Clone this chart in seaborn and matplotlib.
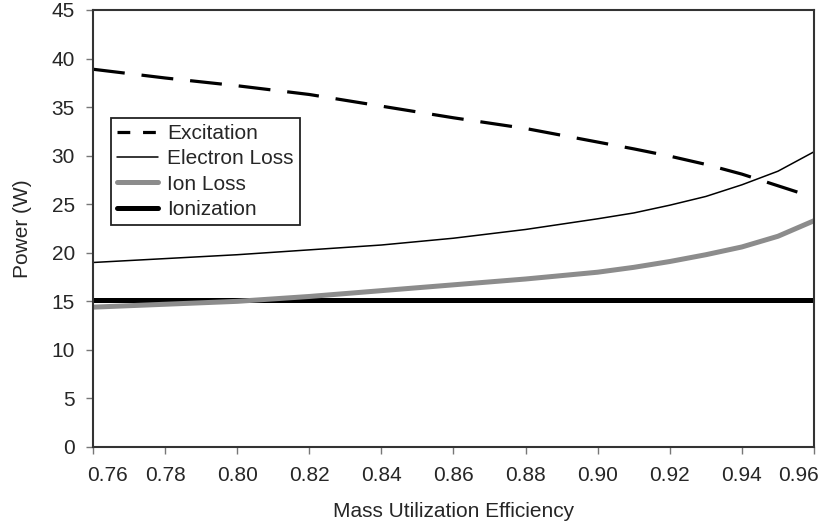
import matplotlib
matplotlib.use("Agg")
import matplotlib.pyplot as plt
from matplotlib.lines import Line2D
from matplotlib.ticker import FormatStrFormatter
import matplotlib.transforms as mtransforms
import seaborn as sns
import pandas as pd

efficiency = [0.76, 0.78, 0.80, 0.82, 0.84, 0.86, 0.88, 0.90, 0.91, 0.92, 0.93, 0.94, 0.95, 0.96]
excitation = [38.9, 38.0, 37.2, 36.3, 35.1, 33.9, 32.8, 31.4, 30.7, 29.95, 29.1, 28.1, 26.9, 25.7]
electron_loss = [19.0, 19.4, 19.8, 20.3, 20.8, 21.5, 22.4, 23.5, 24.1, 24.9, 25.8, 27.0, 28.4, 30.4]
ion_loss = [14.4, 14.7, 15.0, 15.5, 16.1, 16.7, 17.3, 18.0, 18.5, 19.1, 19.8, 20.6, 21.7, 23.3]
ionization = [15.1] * 14
series_names = ["Excitation", "Electron Loss", "Ion Loss", "Ionization"]
x_ticks = [0.76, 0.78, 0.80, 0.82, 0.84, 0.86, 0.88, 0.90, 0.92, 0.94, 0.96]
y_ticks = [0, 5, 10, 15, 20, 25, 30, 35, 40, 45]

sns.set_style("white")
plt.rcParams["font.family"] = ["Liberation Sans", "DejaVu Sans"]

FS = 15

fig = plt.figure(figsize=(8.25, 5.27), dpi=100)
ax = fig.add_axes([93 / 825, 1 - 447 / 527, (814 - 93) / 825, (447 - 10) / 527])

df = pd.DataFrame({"eff": efficiency, "Excitation": excitation,
                   "Electron Loss": electron_loss, "Ion Loss": ion_loss,
                   "Ionization": ionization})

sns.lineplot(data=df, x="eff", y="Ionization", ax=ax, color="black", lw=3.6)
sns.lineplot(data=df, x="eff", y="Ion Loss", ax=ax, color="#8c8c8c", lw=3.6)
sns.lineplot(data=df, x="eff", y="Electron Loss", ax=ax, color="black", lw=1.1)
sns.lineplot(data=df, x="eff", y="Excitation", ax=ax, color="black", lw=2.3)
ax.lines[-1].set_dashes((10, 5.3))

ax.set_xlim(0.76, 0.96)
ax.set_ylim(0, 45)
ax.set_xticks(x_ticks)
ax.set_yticks(y_ticks)
ax.xaxis.set_major_formatter(FormatStrFormatter("%.2f"))
ax.tick_params(axis="both", which="major", direction="out", length=5, width=1,
               color="#777777", labelsize=FS, bottom=True, left=True)
ax.tick_params(axis="x", pad=9)
ax.tick_params(axis="y", pad=8)
for s in ax.spines.values():
    s.set_color("#333333")
    s.set_linewidth(1.5)
ax.set_xlabel("Mass Utilization Efficiency", fontsize=FS, labelpad=12)
ax.set_ylabel("Power (W)", fontsize=FS, labelpad=14)

# nudge the first and last x tick labels inward, as in the reference
fig.canvas.draw()
xlabels = ax.get_xticklabels()
xlabels[0].set_transform(xlabels[0].get_transform() +
                         mtransforms.ScaledTranslation(15 / 100, 0, fig.dpi_scale_trans))
xlabels[-1].set_transform(xlabels[-1].get_transform() +
                          mtransforms.ScaledTranslation(-15 / 100, 0, fig.dpi_scale_trans))

handles = [
    Line2D([], [], color="black", lw=2.3, dashes=(4, 4)),
    Line2D([], [], color="black", lw=1.1),
    Line2D([], [], color="#8c8c8c", lw=3.6),
    Line2D([], [], color="black", lw=3.6),
]
leg = ax.legend(handles, series_names, loc="upper left",
                bbox_to_anchor=((111 - 93) / 721, (447 - 118) / 437),
                fontsize=FS, frameon=True, fancybox=False, framealpha=1,
                edgecolor="#222222", borderpad=0.3, labelspacing=0.3,
                handlelength=1.95, handletextpad=0.45, borderaxespad=0)
leg.get_frame().set_linewidth(1.3)

fig.savefig("out.png", dpi=100)
